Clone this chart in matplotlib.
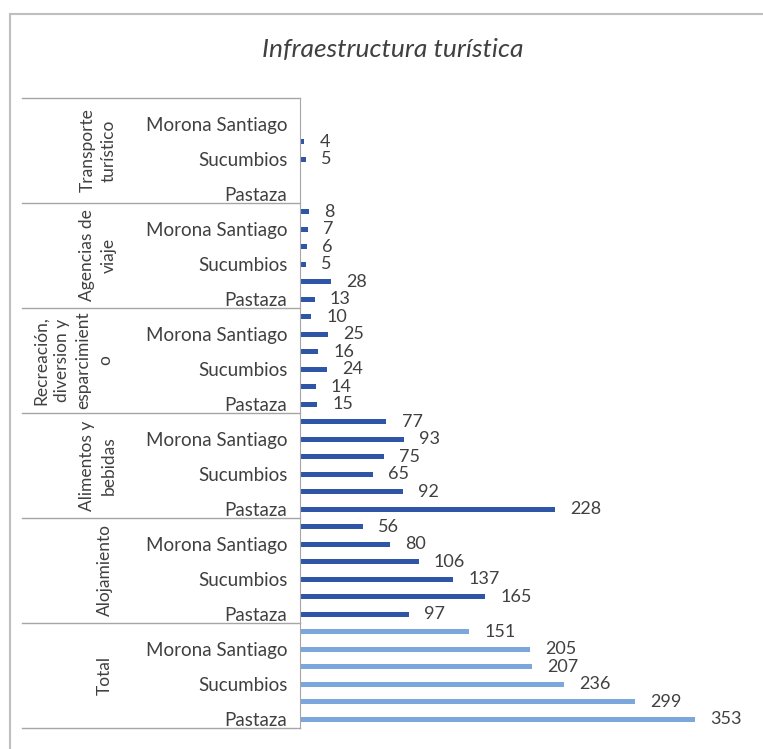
import numpy as np
import matplotlib
matplotlib.use('Agg')
import matplotlib.pyplot as plt
from matplotlib.lines import Line2D

plt.rcParams['font.family'] = ['Lato', 'DejaVu Sans']

# categories from bottom to top, as drawn in the chart
categories = ['Total', 'Alojamiento', 'Alimentos y\nbebidas',
              'Recreación,\ndiversion y\nesparcimient\no',
              'Agencias de\nviaje', 'Transporte\nturístico']
provinces = ['Pastaza', 'Sucumbios', 'Morona Santiago']

# two bars per province, bottom to top inside each category
total = [353, 299, 236, 207, 205, 151]
alojamiento = [97, 165, 137, 106, 80, 56]
alimentos = [228, 92, 65, 75, 93, 77]
recreacion = [15, 14, 24, 16, 25, 10]
agencias = [13, 28, 5, 6, 7, 8]
transporte = [None, None, 5, 4, None, None]

series = [total, alojamiento, alimentos, recreacion, agencias, transporte]
bar_colors = ['#7ba7dc', '#2f56a6', '#2f56a6', '#2f56a6', '#2f56a6', '#2f56a6']

W, H = 763, 749
fig = plt.figure(figsize=(W / 100, H / 100), dpi=100)

ax_left, ax_right = 300, 748
ax_top, ax_bottom = 98, 728
ax = fig.add_axes([ax_left / W, 1 - ax_bottom / H,
                   (ax_right - ax_left) / W, (ax_bottom - ax_top) / H])

n_per = 6
for b, vals in enumerate(series):
    for i, v in enumerate(vals):
        y = b * n_per + i
        if v is None:
            continue
        ax.barh(y, v, height=0.3, color=bar_colors[b])
        ax.annotate(str(v), (v, y), xytext=(11, 0), textcoords='offset points',
                    va='center', ha='left', fontsize=13, color='#404040')

ax.set_xlim(0, 400)
ax.set_ylim(-0.5, len(series) * n_per - 0.5)

# province tick labels on every other row
ticks, labels = [], []
for b in range(len(series)):
    for k, p in enumerate(provinces):
        ticks.append(b * n_per + 2 * k)
        labels.append(p)
ax.set_yticks(ticks)
ax.set_yticklabels(labels, fontsize=13.5, color='#404040')
ax.tick_params(axis='y', length=0, pad=9)
ax.set_xticks([])

for s in ['top', 'right', 'bottom']:
    ax.spines[s].set_visible(False)
ax.spines['left'].set_color('#a6a6a6')

# category labels and separators
trans = ax.get_yaxis_transform()
px = lambda x: (x - ax_left) / (ax_right - ax_left)
for b, cat in enumerate(categories):
    yc = b * n_per + 2.5
    nlines = cat.count('\n') + 1
    xc = 98 if nlines == 2 else (73 if nlines == 4 else 105)
    ax.text(px(xc), yc, cat, transform=trans, rotation=90, ha='center',
            va='center', fontsize=12.5, color='#404040', linespacing=1.4,
            multialignment='center')
for b in range(len(series) + 1):
    yb = b * n_per - 0.5
    ax.add_line(Line2D([px(22), 0], [yb, yb], transform=trans, color='#a6a6a6',
                       lw=1, clip_on=False))

fig.text(393 / W, 1 - 50 / H, 'Infraestructura turística', ha='center',
         va='center', fontsize=19, style='italic', color='#404040')

# outer frame
fig.add_artist(Line2D([10 / W, 10 / W], [0, 1 - 14 / H], color='#bfbfbf', lw=1.5))
fig.add_artist(Line2D([10 / W, 1], [1 - 14 / H, 1 - 14 / H], color='#bfbfbf', lw=1.5))

fig.savefig('out.png', dpi=100)
